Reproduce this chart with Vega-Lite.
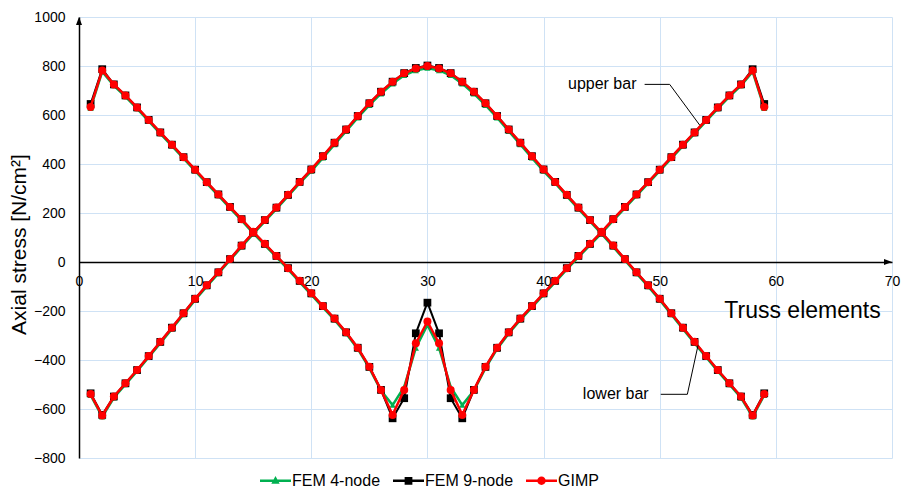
{
  "$schema": "https://vega.github.io/schema/vega-lite/v6.json",
  "width": 813,
  "height": 441,
  "autosize": {"type": "none"},
  "padding": {"left": 79, "top": 17, "right": 19, "bottom": 30},
  "config": {
    "font": "Liberation Sans",
    "view": {"stroke": null},
    "axis": {"labelFont": "Liberation Sans", "titleFont": "Liberation Sans", "labelColor": "#000000", "titleColor": "#000000"}
  },
  "datasets": {
    "stress": [
      {"el":1,"bar":"upper","gimp":633,"fem9":645,"fem4":628},
      {"el":2,"bar":"upper","gimp":782,"fem9":787,"fem4":777},
      {"el":3,"bar":"upper","gimp":725,"fem9":725,"fem4":720},
      {"el":4,"bar":"upper","gimp":680,"fem9":680,"fem4":675},
      {"el":5,"bar":"upper","gimp":631,"fem9":631,"fem4":626},
      {"el":6,"bar":"upper","gimp":580,"fem9":580,"fem4":575},
      {"el":7,"bar":"upper","gimp":529,"fem9":529,"fem4":524},
      {"el":8,"bar":"upper","gimp":479,"fem9":479,"fem4":474},
      {"el":9,"bar":"upper","gimp":428,"fem9":428,"fem4":423},
      {"el":10,"bar":"upper","gimp":377,"fem9":377,"fem4":372},
      {"el":11,"bar":"upper","gimp":326,"fem9":326,"fem4":321},
      {"el":12,"bar":"upper","gimp":276,"fem9":276,"fem4":271},
      {"el":13,"bar":"upper","gimp":225,"fem9":225,"fem4":220},
      {"el":14,"bar":"upper","gimp":175,"fem9":175,"fem4":170},
      {"el":15,"bar":"upper","gimp":123,"fem9":123,"fem4":118},
      {"el":16,"bar":"upper","gimp":74,"fem9":74,"fem4":69},
      {"el":17,"bar":"upper","gimp":25,"fem9":25,"fem4":20},
      {"el":18,"bar":"upper","gimp":-25,"fem9":-25,"fem4":-30},
      {"el":19,"bar":"upper","gimp":-77,"fem9":-77,"fem4":-82},
      {"el":20,"bar":"upper","gimp":-128,"fem9":-128,"fem4":-133},
      {"el":21,"bar":"upper","gimp":-180,"fem9":-180,"fem4":-185},
      {"el":22,"bar":"upper","gimp":-231,"fem9":-231,"fem4":-236},
      {"el":23,"bar":"upper","gimp":-287,"fem9":-287,"fem4":-292},
      {"el":24,"bar":"upper","gimp":-350,"fem9":-350,"fem4":-355},
      {"el":25,"bar":"upper","gimp":-428,"fem9":-428,"fem4":-433},
      {"el":26,"bar":"upper","gimp":-522,"fem9":-522,"fem4":-525},
      {"el":27,"bar":"upper","gimp":-624,"fem9":-638,"fem4":-584},
      {"el":28,"bar":"upper","gimp":-522,"fem9":-556,"fem4":-510},
      {"el":29,"bar":"upper","gimp":-332,"fem9":-291,"fem4":-351},
      {"el":30,"bar":"upper","gimp":-243,"fem9":-166,"fem4":-257},
      {"el":31,"bar":"upper","gimp":-332,"fem9":-291,"fem4":-351},
      {"el":32,"bar":"upper","gimp":-522,"fem9":-556,"fem4":-510},
      {"el":33,"bar":"upper","gimp":-624,"fem9":-638,"fem4":-584},
      {"el":34,"bar":"upper","gimp":-522,"fem9":-522,"fem4":-525},
      {"el":35,"bar":"upper","gimp":-428,"fem9":-428,"fem4":-433},
      {"el":36,"bar":"upper","gimp":-350,"fem9":-350,"fem4":-355},
      {"el":37,"bar":"upper","gimp":-287,"fem9":-287,"fem4":-292},
      {"el":38,"bar":"upper","gimp":-231,"fem9":-231,"fem4":-236},
      {"el":39,"bar":"upper","gimp":-180,"fem9":-180,"fem4":-185},
      {"el":40,"bar":"upper","gimp":-128,"fem9":-128,"fem4":-133},
      {"el":41,"bar":"upper","gimp":-77,"fem9":-77,"fem4":-82},
      {"el":42,"bar":"upper","gimp":-25,"fem9":-25,"fem4":-30},
      {"el":43,"bar":"upper","gimp":25,"fem9":25,"fem4":20},
      {"el":44,"bar":"upper","gimp":74,"fem9":74,"fem4":69},
      {"el":45,"bar":"upper","gimp":123,"fem9":123,"fem4":118},
      {"el":46,"bar":"upper","gimp":175,"fem9":175,"fem4":170},
      {"el":47,"bar":"upper","gimp":225,"fem9":225,"fem4":220},
      {"el":48,"bar":"upper","gimp":276,"fem9":276,"fem4":271},
      {"el":49,"bar":"upper","gimp":326,"fem9":326,"fem4":321},
      {"el":50,"bar":"upper","gimp":377,"fem9":377,"fem4":372},
      {"el":51,"bar":"upper","gimp":428,"fem9":428,"fem4":423},
      {"el":52,"bar":"upper","gimp":479,"fem9":479,"fem4":474},
      {"el":53,"bar":"upper","gimp":529,"fem9":529,"fem4":524},
      {"el":54,"bar":"upper","gimp":580,"fem9":580,"fem4":575},
      {"el":55,"bar":"upper","gimp":631,"fem9":631,"fem4":626},
      {"el":56,"bar":"upper","gimp":680,"fem9":680,"fem4":675},
      {"el":57,"bar":"upper","gimp":725,"fem9":725,"fem4":720},
      {"el":58,"bar":"upper","gimp":782,"fem9":787,"fem4":777},
      {"el":59,"bar":"upper","gimp":633,"fem9":645,"fem4":628},
      {"el":1,"bar":"lower","gimp":-539,"fem9":-536,"fem4":-544},
      {"el":2,"bar":"lower","gimp":-627,"fem9":-624,"fem4":-632},
      {"el":3,"bar":"lower","gimp":-549,"fem9":-549,"fem4":-554},
      {"el":4,"bar":"lower","gimp":-495,"fem9":-495,"fem4":-500},
      {"el":5,"bar":"lower","gimp":-441,"fem9":-441,"fem4":-446},
      {"el":6,"bar":"lower","gimp":-384,"fem9":-384,"fem4":-389},
      {"el":7,"bar":"lower","gimp":-326,"fem9":-326,"fem4":-331},
      {"el":8,"bar":"lower","gimp":-268,"fem9":-268,"fem4":-273},
      {"el":9,"bar":"lower","gimp":-209,"fem9":-209,"fem4":-214},
      {"el":10,"bar":"lower","gimp":-150,"fem9":-150,"fem4":-155},
      {"el":11,"bar":"lower","gimp":-95,"fem9":-95,"fem4":-100},
      {"el":12,"bar":"lower","gimp":-42,"fem9":-42,"fem4":-47},
      {"el":13,"bar":"lower","gimp":12,"fem9":12,"fem4":7},
      {"el":14,"bar":"lower","gimp":67,"fem9":67,"fem4":62},
      {"el":15,"bar":"lower","gimp":120,"fem9":120,"fem4":115},
      {"el":16,"bar":"lower","gimp":171,"fem9":171,"fem4":166},
      {"el":17,"bar":"lower","gimp":222,"fem9":222,"fem4":217},
      {"el":18,"bar":"lower","gimp":274,"fem9":274,"fem4":269},
      {"el":19,"bar":"lower","gimp":327,"fem9":327,"fem4":322},
      {"el":20,"bar":"lower","gimp":378,"fem9":378,"fem4":371},
      {"el":21,"bar":"lower","gimp":432,"fem9":432,"fem4":425},
      {"el":22,"bar":"lower","gimp":487,"fem9":487,"fem4":480},
      {"el":23,"bar":"lower","gimp":541,"fem9":541,"fem4":534},
      {"el":24,"bar":"lower","gimp":596,"fem9":596,"fem4":589},
      {"el":25,"bar":"lower","gimp":648,"fem9":648,"fem4":640},
      {"el":26,"bar":"lower","gimp":695,"fem9":695,"fem4":687},
      {"el":27,"bar":"lower","gimp":736,"fem9":736,"fem4":728},
      {"el":28,"bar":"lower","gimp":770,"fem9":771,"fem4":762},
      {"el":29,"bar":"lower","gimp":790,"fem9":792,"fem4":782},
      {"el":30,"bar":"lower","gimp":800,"fem9":802,"fem4":792},
      {"el":31,"bar":"lower","gimp":790,"fem9":792,"fem4":782},
      {"el":32,"bar":"lower","gimp":770,"fem9":771,"fem4":762},
      {"el":33,"bar":"lower","gimp":736,"fem9":736,"fem4":728},
      {"el":34,"bar":"lower","gimp":695,"fem9":695,"fem4":687},
      {"el":35,"bar":"lower","gimp":648,"fem9":648,"fem4":640},
      {"el":36,"bar":"lower","gimp":596,"fem9":596,"fem4":589},
      {"el":37,"bar":"lower","gimp":541,"fem9":541,"fem4":534},
      {"el":38,"bar":"lower","gimp":487,"fem9":487,"fem4":480},
      {"el":39,"bar":"lower","gimp":432,"fem9":432,"fem4":425},
      {"el":40,"bar":"lower","gimp":378,"fem9":378,"fem4":371},
      {"el":41,"bar":"lower","gimp":327,"fem9":327,"fem4":322},
      {"el":42,"bar":"lower","gimp":274,"fem9":274,"fem4":269},
      {"el":43,"bar":"lower","gimp":222,"fem9":222,"fem4":217},
      {"el":44,"bar":"lower","gimp":171,"fem9":171,"fem4":166},
      {"el":45,"bar":"lower","gimp":120,"fem9":120,"fem4":115},
      {"el":46,"bar":"lower","gimp":67,"fem9":67,"fem4":62},
      {"el":47,"bar":"lower","gimp":12,"fem9":12,"fem4":7},
      {"el":48,"bar":"lower","gimp":-42,"fem9":-42,"fem4":-47},
      {"el":49,"bar":"lower","gimp":-95,"fem9":-95,"fem4":-100},
      {"el":50,"bar":"lower","gimp":-150,"fem9":-150,"fem4":-155},
      {"el":51,"bar":"lower","gimp":-209,"fem9":-209,"fem4":-214},
      {"el":52,"bar":"lower","gimp":-268,"fem9":-268,"fem4":-273},
      {"el":53,"bar":"lower","gimp":-326,"fem9":-326,"fem4":-331},
      {"el":54,"bar":"lower","gimp":-384,"fem9":-384,"fem4":-389},
      {"el":55,"bar":"lower","gimp":-441,"fem9":-441,"fem4":-446},
      {"el":56,"bar":"lower","gimp":-495,"fem9":-495,"fem4":-500},
      {"el":57,"bar":"lower","gimp":-549,"fem9":-549,"fem4":-554},
      {"el":58,"bar":"lower","gimp":-627,"fem9":-624,"fem4":-632},
      {"el":59,"bar":"lower","gimp":-539,"fem9":-536,"fem4":-544}
    ],
    "leaders": [
      {"g":"upper","o":1,"x":48.7,"y":725},
      {"g":"upper","o":2,"x":50.86,"y":725},
      {"g":"upper","o":3,"x":53.44,"y":559},
      {"g":"lower","o":1,"x":50.09,"y":-540},
      {"g":"lower","o":2,"x":52.38,"y":-540},
      {"g":"lower","o":3,"x":53.3,"y":-340}
    ],
    "notes": [
      {"x":48.0,"y":725,"t":"upper bar"},
      {"x":49.05,"y":-540,"t":"lower bar"}
    ]
  },
  "layer": [
    {
      "data": {"name": "stress"},
      "transform": [{"fold": ["fem4","fem9","gimp"], "as": ["method","v"]}, {"filter": "datum.method == 'fem4'"}],
      "mark": {"type": "line", "strokeWidth": 2.5},
      "encoding": {
        "x": {"field": "el", "type": "quantitative", "scale": {"domain": [0,70], "nice": false},
          "axis": {"orient": "bottom", "offset": -196, "values": [0,10,20,30,40,50,60,70], "grid": true, "gridColor": "#cfe2f5", "gridWidth": 1,
            "domainColor": "#000000", "domainWidth": 1.5, "ticks": false, "labelPadding": 12, "labelFontSize": 14, "labelFlush": false,
            "title": "Truss elements", "titleFontSize": 23, "titleFontWeight": "normal", "titleX": 723, "titleY": 48, "titleAlign": "center", "titleBaseline": "middle", "titleAngle": 0}},
        "y": {"field": "v", "type": "quantitative", "scale": {"domain": [-800,1000], "nice": false},
          "axis": {"values": [-800,-600,-400,-200,0,200,400,600,800,1000], "format": "d", "grid": true, "gridColor": "#cfe2f5", "gridWidth": 1,
            "domainColor": "#000000", "domainWidth": 1.5, "ticks": false, "labelPadding": 14, "labelFontSize": 14, "labelFlush": false,
            "title": "Axial stress [N/cm²]", "titleFontSize": 21, "titleFontWeight": "normal", "titleX": -60, "titleY": 227, "titleAlign": "center", "titleBaseline": "middle", "titleAngle": -90}},
        "color": {"field": "method", "type": "nominal",
          "scale": {"domain": ["fem4","fem9","gimp"], "range": ["#00b050","#000000","#ff0000"]},
          "legend": {"orient": "none", "legendX": 181, "legendY": 448, "direction": "horizontal", "title": null,
            "labelFontSize": 16, "labelFont": "Liberation Sans", "labelColor": "#000000", "labelOffset": 1, "columnPadding": 12, "symbolSize": 961,
            "labelExpr": "datum.label == 'fem4' ? 'FEM 4-node' : datum.label == 'fem9' ? 'FEM 9-node' : 'GIMP'",
            "encode": {"symbols": {"update": {
              "shape": {"signal": "datum.value == 'fem4' ? 'M-1,-0.08H1V0.08H-1Z M0,-0.3L0.27,0.2L-0.27,0.2Z' : datum.value == 'fem9' ? 'M-1,-0.08H1V0.08H-1Z M-0.25,-0.25H0.25V0.25H-0.25Z' : 'M-1,-0.08H1V0.08H-1Z M0.27,0A0.27,0.27 0 1,1 -0.27,0A0.27,0.27 0 1,1 0.27,0Z'"},
              "fill": {"scale": "color", "field": "value"},
              "fillOpacity": {"value": 1},
              "strokeWidth": {"value": 0}
            }}}}},
        "detail": {"field": "bar"}
      }
    },
    {
      "data": {"name": "stress"},
      "transform": [{"fold": ["fem4","fem9","gimp"], "as": ["method","v"]}, {"filter": "datum.method == 'fem4'"}],
      "mark": {"type": "point", "shape": "triangle-up", "filled": true, "opacity": 1, "size": 40},
      "encoding": {
        "x": {"field": "el", "type": "quantitative"},
        "y": {"field": "v", "type": "quantitative"},
        "color": {"field": "method", "type": "nominal"}
      }
    },
    {
      "data": {"name": "stress"},
      "transform": [{"fold": ["fem4","fem9","gimp"], "as": ["method","v"]}, {"filter": "datum.method == 'fem9'"}],
      "mark": {"type": "line", "strokeWidth": 2},
      "encoding": {
        "x": {"field": "el", "type": "quantitative"},
        "y": {"field": "v", "type": "quantitative"},
        "color": {"field": "method", "type": "nominal"},
        "detail": {"field": "bar"}
      }
    },
    {
      "data": {"name": "stress"},
      "transform": [{"fold": ["fem4","fem9","gimp"], "as": ["method","v"]}, {"filter": "datum.method == 'fem9'"}],
      "mark": {"type": "point", "shape": "square", "filled": true, "opacity": 1, "size": 60},
      "encoding": {
        "x": {"field": "el", "type": "quantitative"},
        "y": {"field": "v", "type": "quantitative"},
        "color": {"field": "method", "type": "nominal"}
      }
    },
    {
      "data": {"name": "stress"},
      "transform": [{"fold": ["fem4","fem9","gimp"], "as": ["method","v"]}, {"filter": "datum.method == 'gimp'"}],
      "mark": {"type": "line", "strokeWidth": 2.5},
      "encoding": {
        "x": {"field": "el", "type": "quantitative"},
        "y": {"field": "v", "type": "quantitative"},
        "color": {"field": "method", "type": "nominal"},
        "detail": {"field": "bar"}
      }
    },
    {
      "data": {"name": "stress"},
      "transform": [{"fold": ["fem4","fem9","gimp"], "as": ["method","v"]}, {"filter": "datum.method == 'gimp'"}],
      "mark": {"type": "point", "shape": "circle", "filled": true, "opacity": 1, "size": 64},
      "encoding": {
        "x": {"field": "el", "type": "quantitative"},
        "y": {"field": "v", "type": "quantitative"},
        "color": {"field": "method", "type": "nominal"}
      }
    },
    {
      "data": {"values": [{"x": 0, "y": 1000}]},
      "mark": {"type": "point", "shape": "M0,0 L-0.75,2 L0.75,2 Z", "filled": true, "color": "#000000", "opacity": 1, "size": 64},
      "encoding": {
        "x": {"field": "x", "type": "quantitative"},
        "y": {"field": "y", "type": "quantitative"}
      }
    },
    {
      "data": {"values": [{"x": 70, "y": 0}]},
      "mark": {"type": "point", "shape": "M0,0 L-2,-0.75 L-2,0.75 Z", "filled": true, "color": "#000000", "opacity": 1, "size": 64},
      "encoding": {
        "x": {"field": "x", "type": "quantitative"},
        "y": {"field": "y", "type": "quantitative"}
      }
    },
    {
      "data": {"name": "leaders"},
      "mark": {"type": "line", "color": "#000000", "strokeWidth": 1},
      "encoding": {
        "x": {"field": "x", "type": "quantitative"},
        "y": {"field": "y", "type": "quantitative"},
        "detail": {"field": "g"},
        "order": {"field": "o"}
      }
    },
    {
      "data": {"name": "notes"},
      "mark": {"type": "text", "align": "right", "baseline": "middle", "fontSize": 16, "font": "Liberation Sans", "color": "#000000"},
      "encoding": {
        "x": {"field": "x", "type": "quantitative"},
        "y": {"field": "y", "type": "quantitative"},
        "text": {"field": "t"}
      }
    }
  ]
}
